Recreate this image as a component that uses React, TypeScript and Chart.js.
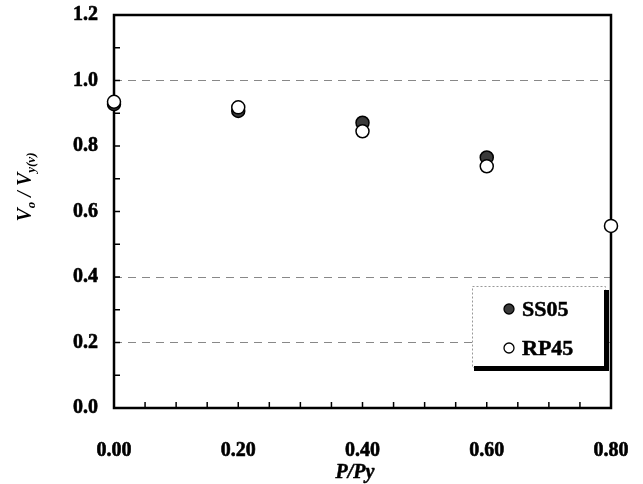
import { useEffect, useRef } from "react";
import { Chart, registerables } from "chart.js";

Chart.register(...registerables);

const FONT = '"Liberation Serif", "Times New Roman", serif';

// P/Py values
const loadRatios = [0, 0.2, 0.4, 0.6, 0.8];
// Vo / Vy(v)
const ss05Values = [0.928, 0.907, 0.871, 0.765];
const rp45Values = [0.935, 0.918, 0.845, 0.738, 0.556];
const seriesNames = ["SS05", "RP45"];
const dashedGridValues = [0.2, 0.4, 1.0];

const zeroPad = (s: any) => {
  s.paddingTop = 0;
  s.paddingBottom = 0;
  s.paddingLeft = 0;
  s.paddingRight = 0;
};

const framePlugin = {
  id: "frame",
  beforeDatasetsDraw(chart: any) {
    const { ctx, chartArea: a, scales } = chart;
    const x = scales.x;
    const y = scales.y;
    ctx.save();
    ctx.strokeStyle = "#000";
    ctx.lineWidth = 2.5;
    ctx.strokeRect(a.left, a.top, a.right - a.left, a.bottom - a.top);
    ctx.lineWidth = 1.5;
    ctx.beginPath();
    for (let i = 1; i < 12; i++) {
      const py = y.getPixelForValue(i / 10);
      ctx.moveTo(a.left, py);
      ctx.lineTo(a.left + 6, py);
    }
    for (let i = 1; i < 16; i++) {
      const px = x.getPixelForValue(i * 0.05);
      ctx.moveTo(px, a.bottom);
      ctx.lineTo(px, a.bottom - 6);
    }
    ctx.stroke();
    ctx.restore();
  },
  afterDraw(chart: any) {
    const { ctx, chartArea: a } = chart;
    ctx.save();
    ctx.fillStyle = "#000";
    ctx.strokeStyle = "#000";
    ctx.lineWidth = 0.5;
    // x title
    ctx.font = `italic bold 20px ${FONT}`;
    ctx.textAlign = "center";
    ctx.textBaseline = "alphabetic";
    ctx.fillText("P/Py", 355, 478);
    ctx.strokeText("P/Py", 355, 478);
    // y title with subscripts, rotated
    const parts: [string, number, number][] = [
      ["V", 20, 0],
      ["o", 13, 4],
      [" / V", 20, 0],
      ["y(v)", 13, 4],
    ];
    let total = 0;
    for (const [t, s] of parts) {
      ctx.font = `italic bold ${s}px ${FONT}`;
      total += ctx.measureText(t).width;
    }
    ctx.translate(31, 187);
    ctx.rotate(-Math.PI / 2);
    ctx.textAlign = "left";
    let cx = -total / 2;
    for (const [t, s, off] of parts) {
      ctx.font = `italic bold ${s}px ${FONT}`;
      ctx.fillText(t, cx, off);
      cx += ctx.measureText(t).width;
    }
    ctx.restore();

    // legend
    ctx.save();
    const left = a.right - 139;
    const top = a.top + 271;
    const right = a.right - 6;
    const bottom = a.top + 352;
    ctx.fillStyle = "#fff";
    ctx.fillRect(left, top, right - left, bottom - top);
    ctx.strokeStyle = "#999";
    ctx.lineWidth = 1;
    ctx.setLineDash([2, 2]);
    ctx.strokeRect(left + 0.5, top + 0.5, right - left, bottom - top);
    ctx.setLineDash([]);
    ctx.fillStyle = "#000";
    ctx.fillRect(right - 1, top + 4, 5, bottom - top);
    ctx.fillRect(left + 2, bottom - 1, right - left + 2, 5);
    const mx = left + 37;
    const y1 = top + 23;
    const y2 = top + 62;
    ctx.lineWidth = 1.3;
    ctx.strokeStyle = "#000";
    ctx.beginPath();
    ctx.arc(mx, y1, 5, 0, Math.PI * 2);
    ctx.fillStyle = "#3a3a3a";
    ctx.fill();
    ctx.stroke();
    ctx.beginPath();
    ctx.arc(mx, y2, 5, 0, Math.PI * 2);
    ctx.fillStyle = "#fff";
    ctx.fill();
    ctx.stroke();
    ctx.fillStyle = "#000";
    ctx.font = `bold 22px ${FONT}`;
    ctx.textAlign = "left";
    ctx.textBaseline = "middle";
    ctx.lineWidth = 0.5;
    ctx.fillText(seriesNames[0], mx + 13, y1 + 1);
    ctx.strokeText(seriesNames[0], mx + 13, y1 + 1);
    ctx.fillText(seriesNames[1], mx + 13, y2 + 1);
    ctx.strokeText(seriesNames[1], mx + 13, y2 + 1);
    ctx.restore();
  },
};

export default function App() {
  const ref = useRef<HTMLCanvasElement>(null);
  useEffect(() => {
    const chart = new Chart(ref.current!, {
      type: "scatter",
      data: {
        datasets: [
          {
            label: seriesNames[1],
            data: rp45Values.map((v, i) => ({ x: loadRatios[i], y: v })),
            pointRadius: 6.5,
            pointBackgroundColor: "#fff",
            pointBorderColor: "#000",
            pointBorderWidth: 1.5,
            clip: false,
            order: 0,
          },
          {
            label: seriesNames[0],
            data: ss05Values.map((v, i) => ({ x: loadRatios[i], y: v })),
            pointRadius: 6.5,
            pointBackgroundColor: "#3a3a3a",
            pointBorderColor: "#000",
            pointBorderWidth: 1.5,
            clip: false,
            order: 1,
          },
        ],
      },
      options: {
        responsive: false,
        animation: false,
        devicePixelRatio: 1,
        layout: { padding: { left: 0, right: 32, top: 15, bottom: 0 } },
        plugins: { legend: { display: false }, tooltip: { enabled: false } },
        scales: {
          x: {
            type: "linear",
            min: 0,
            max: 0.8,
            afterFit: (s: any) => {
              s.height = 76;
              zeroPad(s);
            },
            grid: { display: false, drawTicks: false },
            border: { display: false },
            ticks: {
              stepSize: 0.2,
              padding: 31,
              color: "#000",
              textStrokeColor: "#000",
              textStrokeWidth: 0.6,
              font: { family: FONT, size: 20, weight: "bold" },
              callback: (v: any) => Number(v).toFixed(2),
            },
          },
          y: {
            type: "linear",
            min: 0,
            max: 1.2,
            afterFit: (s: any) => {
              s.width = 114;
              zeroPad(s);
            },
            grid: {
              drawTicks: false,
              lineWidth: 1,
              color: (c: any) =>
                dashedGridValues.some((g) => Math.abs(g - c.tick.value) < 1e-6)
                  ? "#888"
                  : "rgba(0,0,0,0)",
            },
            border: { display: false, dash: [8, 6] },
            ticks: {
              stepSize: 0.2,
              padding: 16,
              color: "#000",
              textStrokeColor: "#000",
              textStrokeWidth: 0.6,
              font: { family: FONT, size: 20, weight: "bold" },
              callback: (v: any) => Number(v).toFixed(1),
            },
          },
        },
      },
      plugins: [framePlugin],
    } as any);
    return () => chart.destroy();
  }, []);
  return (
    <div
      style={{
        position: "fixed",
        left: 0,
        top: 0,
        width: 643,
        height: 484,
        background: "#fff",
      }}
    >
      <canvas ref={ref} width={643} height={484} style={{ display: "block" }} />
    </div>
  );
}
